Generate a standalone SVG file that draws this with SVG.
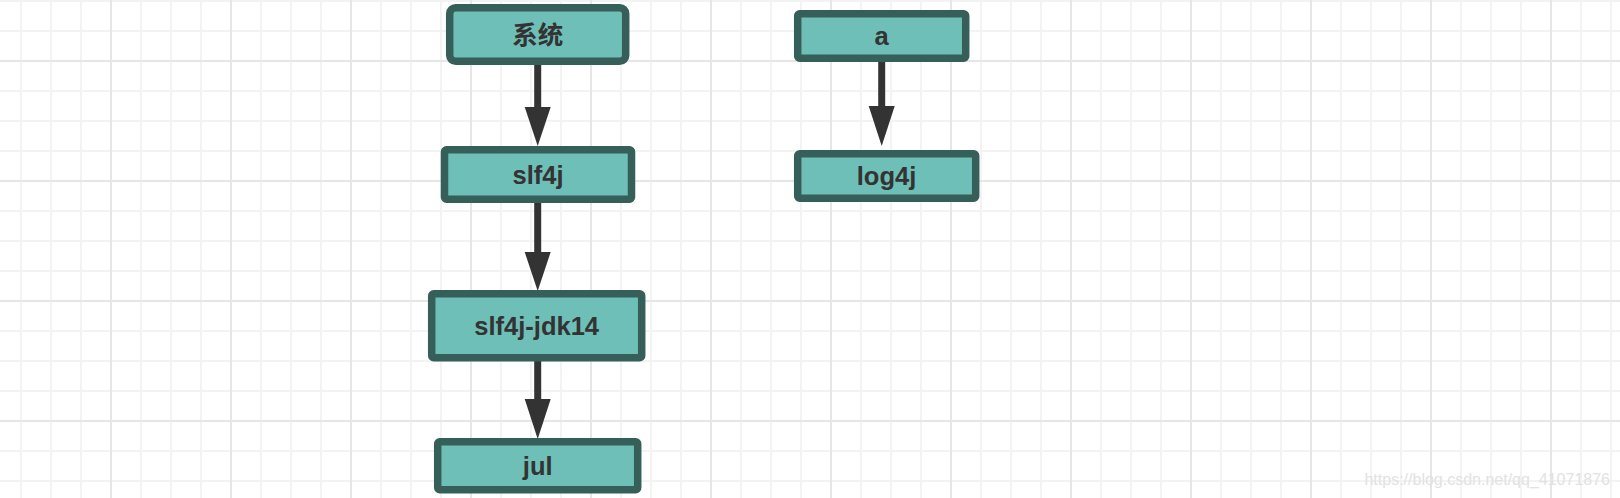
<svg xmlns="http://www.w3.org/2000/svg" width="1620" height="498" viewBox="0 0 1620 498">
<style>
.box{fill:#6dbfb7;stroke:#375f5a;stroke-width:7.5}
.lbl{font-family:"Liberation Sans","Noto Sans CJK SC",sans-serif;font-weight:bold;font-size:25.5px;fill:#333;text-anchor:middle}
.edge{stroke:#333;stroke-width:7}
.head{fill:#333}
</style>
<defs>
<pattern id="grid" patternUnits="userSpaceOnUse" x="-10" y="-60" width="120" height="120">
<rect x="30" y="0" width="2" height="120" fill="#f3f3f3"/>
<rect x="60" y="0" width="2" height="120" fill="#f3f3f3"/>
<rect x="90" y="0" width="2" height="120" fill="#f3f3f3"/>
<rect x="0" y="30" width="120" height="2" fill="#f3f3f3"/>
<rect x="0" y="60" width="120" height="2" fill="#f3f3f3"/>
<rect x="0" y="90" width="120" height="2" fill="#f3f3f3"/>
<rect x="0" y="0" width="2" height="120" fill="#e6e6e6"/>
<rect x="0" y="0" width="120" height="2" fill="#e6e6e6"/>
</pattern>
</defs>
<rect width="1620" height="498" fill="#fff"/>
<rect width="1620" height="498" fill="url(#grid)"/>
<g id="connectors">
<line class="edge" x1="537.7" y1="65" x2="537.7" y2="108"/>
<polygon class="head" points="524.7,107 550.7,107 537.7,146"/>
<line class="edge" x1="537.7" y1="203" x2="537.7" y2="253"/>
<polygon class="head" points="524.7,252 550.7,252 537.7,291"/>
<line class="edge" x1="537.7" y1="361" x2="537.7" y2="400"/>
<polygon class="head" points="524.7,399 550.7,399 537.7,439"/>
<line class="edge" x1="881.7" y1="62" x2="881.7" y2="107"/>
<polygon class="head" points="868.7,106 894.7,106 881.7,146"/>
</g>
<g id="n-system">
<rect class="box" x="449.7" y="7.7" width="176" height="53.6" rx="6"/>
<text class="lbl" x="537.7" y="44">系统</text>
</g>
<g id="n-slf4j">
<rect class="box" x="444.5" y="149.7" width="187" height="49.6" rx="2"/>
<text class="lbl" x="538" y="183.5">slf4j</text>
</g>
<g id="n-slf4j-jdk14">
<rect class="box" x="431.7" y="293.7" width="210" height="64" rx="2"/>
<text class="lbl" x="536.7" y="334.5">slf4j-jdk14</text>
</g>
<g id="n-jul">
<rect class="box" x="437.7" y="441.7" width="200" height="48" rx="2"/>
<text class="lbl" x="537.7" y="474.5">jul</text>
</g>
<g id="n-a">
<rect class="box" x="797.7" y="13.7" width="168" height="44.5" rx="2"/>
<text class="lbl" x="881.7" y="44.5">a</text>
</g>
<g id="n-log4j">
<rect class="box" x="797.7" y="153.7" width="178" height="44.5" rx="2"/>
<text class="lbl" x="886.5" y="184.5">log4j</text>
</g>
<text x="1610" y="485" font-family="Liberation Sans, sans-serif" font-size="16" fill="#e2e2e2" text-anchor="end">https://blog.csdn.net/qq_41071876</text>
</svg>
